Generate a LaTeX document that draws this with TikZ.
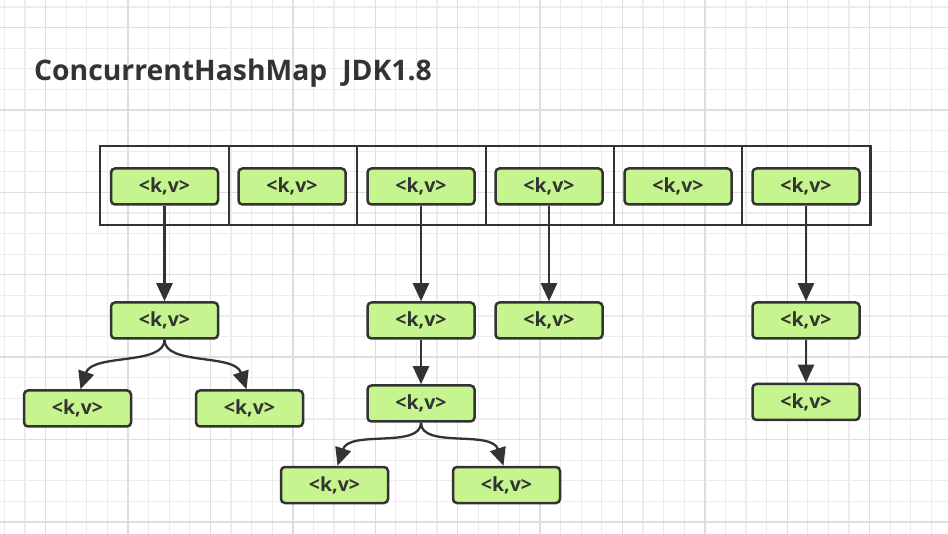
\documentclass[tikz,border=0pt]{standalone}
\usepackage{fontspec}
\setmainfont{Open Sans}
\usetikzlibrary{arrows.meta}
\definecolor{ink}{HTML}{333333}
\definecolor{kvfill}{RGB}{198,244,142}
\definecolor{gridminor}{RGB}{236,236,236}
\definecolor{gridmajor}{RGB}{222,222,222}
\begin{document}
\begin{tikzpicture}[x=1pt,y=-1pt,
  kv/.style={draw=ink, fill=kvfill, line width=2.5pt, rounded corners=4pt,
    minimum width=107pt, minimum height=36pt, inner sep=0pt,
    font=\bfseries\fontsize{19.5}{19.5}\selectfont, text=ink},
  cell/.style={draw=ink, line width=2.2pt, minimum width=128.3pt,
    minimum height=79pt, inner sep=0pt},
  arr/.style={draw=ink, line width=2.3pt, -{Triangle[width=16pt,length=18pt]}},
  gmin/.style={draw=gridminor, line width=1.2pt},
  gmaj/.style={draw=gridmajor, line width=1.4pt}]
\useasboundingbox (0,0) rectangle (948,534);
\fill[white] (0,0) rectangle (948,534);
% grid
\foreach \k in {0,...,45}{\pgfmathsetmacro\xx{4.4+20.6*\k}\draw[gmin] (\xx,0) -- (\xx,534);}
\foreach \k in {0,...,25}{\pgfmathsetmacro\yy{7+20.6*\k}\draw[gmin] (0,\yy) -- (948,\yy);}
\foreach \k in {2,6,...,42}{\pgfmathsetmacro\xx{4.4+20.6*\k}\draw[gmaj] (\xx,0) -- (\xx,534);}
\foreach \k in {1,5,...,25}{\pgfmathsetmacro\yy{7+20.6*\k}\draw[gmaj] (0,\yy) -- (948,\yy);}
% title
\node[anchor=base west, inner sep=0pt, text=ink,
  font=\bfseries\fontsize{28.3}{28.3}\selectfont] (title) at (34,81)
  {ConcurrentHashMap\hspace{15pt}JDK1.8};
% array cells
\foreach \i/\x in {1/164.5,2/293,3/421.5,4/550,5/678,6/806.3}{
  \node[cell] (c\i) at (\x,185.5) {};}
% top nodes
\node[kv] (t1) at (164.5,186.5) {<k,v>};
\node[kv] (t2) at (292,186.5) {<k,v>};
\node[kv] (t3) at (421,186.5) {<k,v>};
\node[kv] (t4) at (549,186.5) {<k,v>};
\node[kv] (t5) at (678,186.5) {<k,v>};
\node[kv] (t6) at (806,186.5) {<k,v>};
% second row
\node[kv] (a1) at (164.5,320.5) {<k,v>};
\node[kv] (a3) at (421,320.5) {<k,v>};
\node[kv] (a4) at (549,320.5) {<k,v>};
\node[kv] (a6) at (806,320.5) {<k,v>};
% third row
\node[kv] (b1l) at (77.5,408.5) {<k,v>};
\node[kv] (b1r) at (249.5,408.5) {<k,v>};
\node[kv] (b3) at (421,403.5) {<k,v>};
\node[kv] (b6) at (806,402) {<k,v>};
% fourth row
\node[kv] (d3l) at (334.5,485) {<k,v>};
\node[kv] (d3r) at (506.5,485) {<k,v>};
% connectors
\draw[arr] (t1) -- (a1);
\draw[arr] (t3) -- (a3);
\draw[arr] (t4) -- (a4);
\draw[arr] (t6) -- (a6);
\draw[arr] (a3) -- (b3);
\draw[arr] (a6) -- (b6);
\draw[arr] (a1.south) .. controls +(0,26) and +(12,-36) .. ([xshift=3pt]b1l.north);
\draw[arr] (a1.south) .. controls +(0,26) and +(-12,-36) .. ([xshift=-3pt]b1r.north);
\draw[arr] (b3.south) .. controls +(0,26) and +(12,-36) .. ([xshift=3pt]d3l.north);
\draw[arr] (b3.south) .. controls +(0,26) and +(-12,-36) .. ([xshift=-3pt]d3r.north);
\end{tikzpicture}
\end{document}
